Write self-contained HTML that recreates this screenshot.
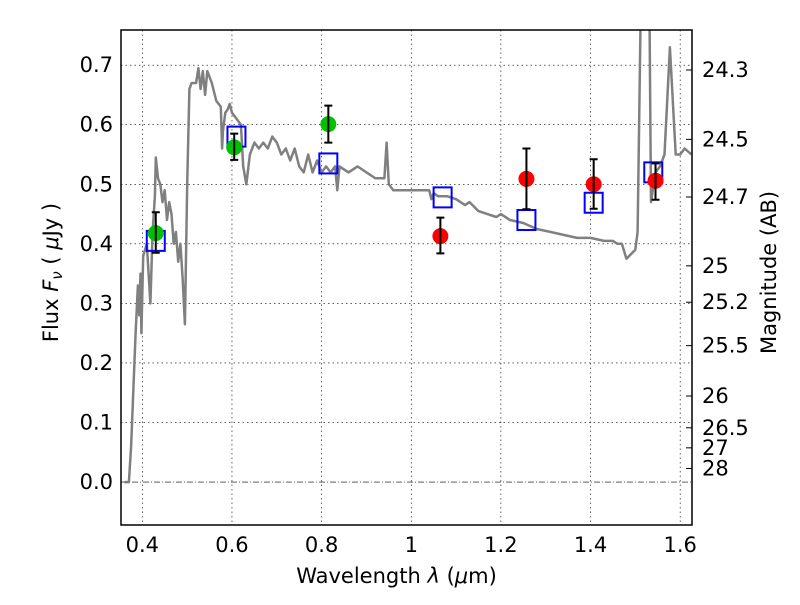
<!DOCTYPE html>
<html><head><meta charset="utf-8"><style>
body{margin:0;background:#fff;}
svg text{font-family:"DejaVu Sans","Liberation Sans",sans-serif;}
</style></head><body>
<svg id="chart" width="800" height="600" xmlns="http://www.w3.org/2000/svg"></svg>
<script>
const specX=[0.36,0.37,0.375,0.385,0.39,0.393,0.396,0.398,0.402,0.41,0.418,0.423,0.428,0.43,0.435,0.44,0.445,0.45,0.455,0.46,0.465,0.47,0.475,0.48,0.485,0.49,0.495,0.5,0.505,0.51,0.52,0.525,0.53,0.535,0.54,0.545,0.55,0.555,0.565,0.575,0.578,0.58,0.585,0.59,0.595,0.6,0.61,0.62,0.625,0.632,0.64,0.65,0.66,0.67,0.68,0.69,0.7,0.71,0.72,0.73,0.74,0.75,0.76,0.77,0.78,0.79,0.8,0.81,0.82,0.83,0.835,0.84,0.86,0.88,0.9,0.92,0.94,0.945,0.95,0.96,0.98,1.0,1.02,1.04,1.045,1.05,1.06,1.08,1.1,1.12,1.13,1.15,1.17,1.19,1.2,1.22,1.25,1.28,1.31,1.34,1.37,1.4,1.43,1.45,1.46,1.47,1.48,1.5,1.505,1.513,1.531,1.535,1.545,1.555,1.565,1.577,1.59,1.6,1.61,1.625];
const specY=[0.0,0.0,0.06,0.25,0.33,0.28,0.35,0.25,0.38,0.40,0.30,0.42,0.48,0.545,0.51,0.50,0.47,0.49,0.44,0.47,0.45,0.40,0.42,0.37,0.40,0.34,0.265,0.50,0.66,0.67,0.67,0.695,0.66,0.69,0.65,0.69,0.68,0.67,0.64,0.63,0.56,0.59,0.62,0.625,0.635,0.62,0.61,0.60,0.53,0.50,0.55,0.57,0.56,0.57,0.56,0.58,0.57,0.55,0.56,0.54,0.56,0.53,0.52,0.55,0.52,0.54,0.52,0.53,0.52,0.53,0.49,0.53,0.52,0.53,0.52,0.51,0.51,0.57,0.50,0.49,0.49,0.49,0.49,0.49,0.475,0.485,0.48,0.48,0.475,0.465,0.47,0.455,0.45,0.445,0.45,0.44,0.435,0.425,0.42,0.415,0.41,0.41,0.405,0.405,0.40,0.40,0.375,0.39,0.42,0.85,0.85,0.47,0.52,0.53,0.55,0.73,0.55,0.55,0.56,0.55];
const greenX=[0.43,0.605,0.815];
const greenY=[0.418,0.562,0.601];
const greenLo=[0.385,0.541,0.57];
const greenHi=[0.453,0.585,0.632];
const redX=[1.065,1.257,1.407,1.545];
const redY=[0.413,0.509,0.5,0.506];
const redLo=[0.384,0.458,0.459,0.474];
const redHi=[0.444,0.56,0.542,0.535];
const modelX=[0.43,0.61,0.815,1.07,1.257,1.407,1.54];
const modelY=[0.405,0.58,0.535,0.478,0.44,0.469,0.52];
const xTicks=[0.4,0.6,0.8,1.0,1.2,1.4,1.6];
const xTickLabels=["0.4","0.6","0.8","1","1.2","1.4","1.6"];
const yTicks=[0,0.1,0.2,0.3,0.4,0.5,0.6,0.7];
const yTickLabels=["0.0","0.1","0.2","0.3","0.4","0.5","0.6","0.7"];
const magTicks=[24.3,24.5,24.7,25,25.2,25.5,26,26.5,27,28];
const magLabels=["24.3","24.5","24.7","25","25.2","25.5","26","26.5","27","28"];

const L=121,R=692,T=30,B=525;
const X0=0.3524,X1=1.6264,Y0=-0.072,Y1=0.759;
const sx=v=>L+(v-X0)/(X1-X0)*(R-L);
const sy=v=>B-(v-Y0)/(Y1-Y0)*(B-T);
const svg=document.getElementById('chart');
const NS='http://www.w3.org/2000/svg';
function mk(tag,attrs,parent){const e=document.createElementNS(NS,tag);for(const k in attrs)e.setAttribute(k,attrs[k]);(parent||svg).appendChild(e);return e;}

const defs=mk('defs',{});
const cp=mk('clipPath',{id:'clip'},defs);
mk('rect',{x:L,y:T,width:R-L,height:B-T},cp);

xTicks.forEach((t,i)=>{
  const g=mk('line',{x1:sx(t),x2:sx(t),y1:T,y2:B,stroke:'#000','stroke-width':0.6,'stroke-dasharray':'1.5,3'});
  
  
  const tx=mk('text',{x:sx(t),y:B+27,'font-size':21,'text-anchor':'middle'});
  tx.textContent=xTickLabels[i];
  
  
});
yTicks.forEach((t,i)=>{
  const g=mk('line',{x1:L,x2:R,y1:sy(t),y2:sy(t),stroke:'#000','stroke-width':0.6,'stroke-dasharray':t===0?'6,2,1,2':'1.5,3'});
  
  
  const tx=mk('text',{x:L-8,y:sy(t)+7,'font-size':21,'text-anchor':'end'});
  tx.textContent=yTickLabels[i];
  
  
});
magTicks.forEach((m,i)=>{
  const f=Math.pow(10,-0.4*(m-23.9));
  const y=sy(f);
  const tk=mk('line',{x1:R-6,x2:R,y1:y,y2:y,stroke:'#000','stroke-width':1});
  
  
  const tx=mk('text',{x:R+10,y:y+7,'font-size':21});
  tx.textContent=magLabels[i];
  
  
});

const g=mk('g',{'clip-path':'url(#clip)'});


const sp=mk('polyline',{points:specX.map((x,i)=>sx(x).toFixed(1)+','+sy(specY[i]).toFixed(1)).join(' '),fill:'none',stroke:'#808080','stroke-width':2.5,'stroke-linejoin':'round'},g);



modelX.forEach((x,i)=>{
  const r=mk('rect',{x:sx(x)-9,y:sy(modelY[i])-10,width:18,height:20,fill:'none',stroke:'#0000ff','stroke-width':2},g);
  
  
});
function pts(xs,ys,lo,hi,col,name){
  xs.forEach((x,i)=>{
    const c=mk('circle',{cx:sx(x),cy:sy(ys[i]),r:8,fill:col},g);
    
    
    const X=sx(x);
    const e=mk('path',{d:`M${X},${sy(lo[i])}V${sy(hi[i])}M${X-4},${sy(lo[i])}H${X+4}M${X-4},${sy(hi[i])}H${X+4}`,stroke:'#000','stroke-width':2,fill:'none'},g);
    
    
  });
}
pts(greenX,greenY,greenLo,greenHi,'#00c000','green-data-point');
pts(redX,redY,redLo,redHi,'#ff0000','red-data-point');

const fr=mk('rect',{x:L,y:T,width:R-L,height:B-T,fill:'none',stroke:'#000','stroke-width':1.5});



const xl=mk('text',{x:(L+R)/2-10,y:583,'font-size':21,'text-anchor':'middle'});
xl.innerHTML='Wavelength  <tspan font-style="italic">λ</tspan> (<tspan font-style="italic">μ</tspan>m)';


const yl=mk('text',{x:0,y:0,'font-size':21,'text-anchor':'middle',transform:`translate(58,${(T+B)/2-5}) rotate(-90)`});
yl.innerHTML='Flux  <tspan font-style="italic">F</tspan><tspan font-style="italic" font-size="15" dy="4">ν</tspan><tspan dy="-4">  ( </tspan><tspan font-style="italic">μ</tspan>Jy )';


const ml=mk('text',{x:0,y:0,'font-size':21,'text-anchor':'middle',transform:`translate(776,${(T+B)/2-5}) rotate(-90)`});
ml.textContent='Magnitude (AB)';


</script>
</body></html>
